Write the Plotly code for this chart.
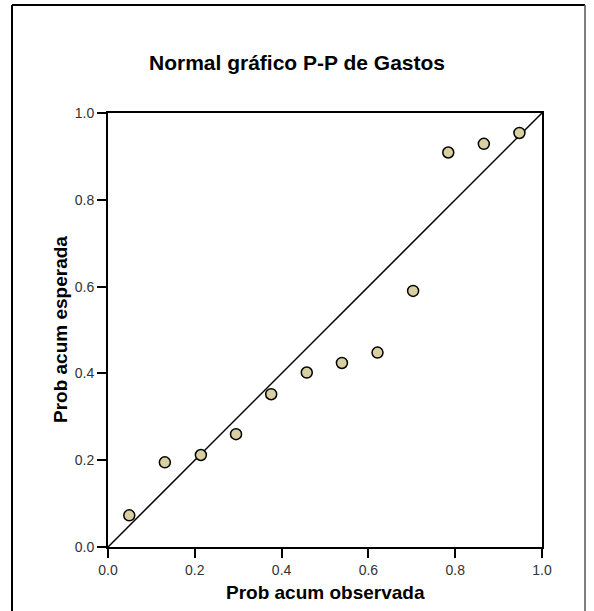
import plotly.graph_objects as go

# Data
prob_observada = [0.049, 0.131, 0.214, 0.295, 0.376, 0.458, 0.539, 0.621, 0.703, 0.784, 0.866, 0.948]
prob_esperada = [0.073, 0.195, 0.212, 0.260, 0.352, 0.402, 0.424, 0.448, 0.590, 0.909, 0.929, 0.954]
ref_line = [0.0, 1.0]
tick_vals = [0.0, 0.2, 0.4, 0.6, 0.8, 1.0]
tick_text = ["0.0", "0.2", "0.4", "0.6", "0.8", "1.0"]

title_text = "Normal gráfico P-P de Gastos"
x_title = "Prob acum observada"
y_title = "Prob acum esperada"

W, H = 594, 611
L, R, T, B = 108, 542, 113, 547
pw, ph = R - L, B - T

def px(x):
    return (x - L) / pw

def py(y):
    return (B - y) / ph

font = "Liberation Sans, Arial, sans-serif"

fig = go.Figure()
fig.add_trace(go.Scatter(x=ref_line, y=ref_line, mode="lines",
                         line=dict(color="black", width=1.5),
                         hoverinfo="skip", showlegend=False, cliponaxis=False))
fig.add_trace(go.Scatter(x=prob_observada, y=prob_esperada, mode="markers",
                         marker=dict(size=11, color="#d8d0a0",
                                     line=dict(color="black", width=1.5)),
                         showlegend=False, cliponaxis=False))

axis_common = dict(range=[0, 1], tickvals=tick_vals, ticktext=tick_text,
                   ticks="outside", ticklen=9, tickwidth=1.5, tickcolor="black",
                   showline=True, linecolor="black", linewidth=2, mirror=True,
                   showgrid=False, zeroline=False,
                   tickfont=dict(family=font, size=14, color="#333333"))

fig.update_layout(
    width=W, height=H,
    margin=dict(l=L, r=W - R, t=T, b=H - B, pad=0),
    paper_bgcolor="white", plot_bgcolor="white",
    xaxis=dict(**axis_common),
    yaxis=dict(**axis_common),
    font=dict(family=font),
    annotations=[
        dict(text="<b>" + title_text + "</b>", x=px(297), y=py(62), xref="paper", yref="paper",
             showarrow=False, xanchor="center", yanchor="middle",
             font=dict(family=font, size=21, color="black")),
        dict(text="<b>" + x_title + "</b>", x=px(325), y=py(592), xref="paper", yref="paper",
             showarrow=False, xanchor="center", yanchor="middle",
             font=dict(family=font, size=19, color="black")),
        dict(text="<b>" + y_title + "</b>", x=px(60), y=py(330), xref="paper", yref="paper",
             showarrow=False, xanchor="center", yanchor="middle", textangle=-90,
             font=dict(family=font, size=19, color="black")),
    ],
    shapes=[
        dict(type="line", xref="paper", yref="paper", x0=px(12), x1=px(12), y0=py(5), y1=py(640),
             line=dict(color="black", width=2)),
        dict(type="line", xref="paper", yref="paper", x0=px(12), x1=px(585), y0=py(5), y1=py(5),
             line=dict(color="black", width=2)),
        dict(type="line", xref="paper", yref="paper", x0=px(585), x1=px(585), y0=py(5), y1=py(640),
             line=dict(color="#555555", width=1.5)),
    ],
)

fig.write_html("out.html", config={"displayModeBar": False},
               post_script="document.body.style.margin='0';document.body.style.overflow='hidden';")
